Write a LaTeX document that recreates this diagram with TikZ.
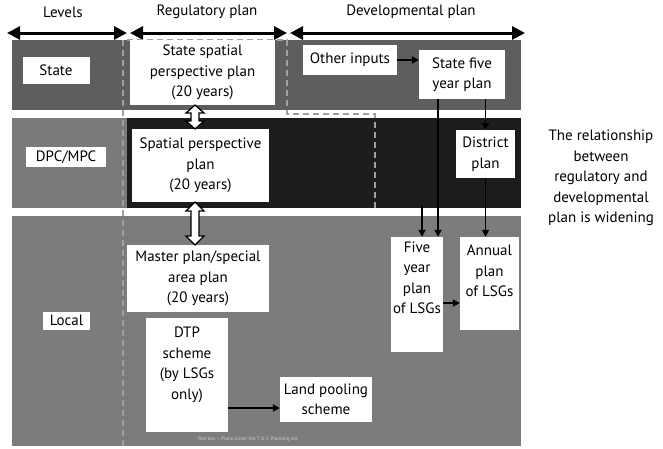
\documentclass[tikz,border=0pt]{standalone}
\usepackage{fontspec}
\setmainfont{PT Sans}
\usetikzlibrary{arrows.meta}
\definecolor{staterow}{HTML}{5E5E5E}
\definecolor{midrow}{HTML}{7A7A7A}
\definecolor{darkrow}{HTML}{1C1C1C}
\definecolor{localrow}{HTML}{7C7C7C}
\definecolor{redboxline}{HTML}{A0A0A0}
\tikzset{
  txt/.style={font=\fontsize{15}{20.5}\selectfont, align=center, inner sep=0pt},
  wbox/.style={fill=white, draw=none, inner sep=0pt, align=center, font=\fontsize{15}{20.5}\selectfont},
  levelarrow/.style={line width=3pt, {Triangle[length=13pt,width=13pt]}-{Triangle[length=13pt,width=13pt]}},
  conn/.style={line width=1.8pt, -{Triangle[length=7pt,width=7pt]}},
  redbox/.style={draw=redboxline, line width=1.3pt, dash pattern=on 6pt off 4pt},
  hollow/.style={draw=black, fill=white, line width=1.3pt, line join=miter}
}
\begin{document}
\begin{tikzpicture}[x=1pt,y=-1pt]
\useasboundingbox (0,0) rectangle (663,448);
% header labels
\node[txt] (hlev) at (63,12) {Levels};
\node[txt] (hreg) at (207,12) {Regulatory plan};
\node[txt] (hdev) at (411,12) {Developmental plan};
\coordinate (a1) at (7,33); \coordinate (a2) at (127,33);
\coordinate (a3) at (130,33); \coordinate (a4) at (287,33);
\coordinate (a5) at (290,33); \coordinate (a6) at (525,33);
\draw[levelarrow] (a1) -- (a2);
\draw[levelarrow] (a3) -- (a4);
\draw[levelarrow] (a5) -- (a6);
% background rows
\fill[staterow] (12,40) rectangle (521,110);
\fill[white] (12,110) rectangle (521,118);
\fill[midrow] (12,118) rectangle (127,208);
\fill[darkrow] (127,118) rectangle (521,208);
\fill[white] (12,208) rectangle (521,216);
\fill[localrow] (12,216) rectangle (521,446);
% red box (dashed)
\draw[redbox] (123,446) -- (123,40) -- (287,40) -- (287,114) -- (375,114) -- (375,210);
% level labels
\node[wbox, minimum width=67pt, minimum height=27pt] (state) at (56,70.5) {State};
\node[wbox, minimum width=80pt, minimum height=20pt] (dpc) at (66,157) {DPC/MPC};
\node[wbox, minimum width=47pt, minimum height=18pt] (local) at (66.5,320.5) {Local};
% regulatory plans
\node[wbox, minimum width=145pt, minimum height=65pt] (sspp) at (202.5,72.5) {State spatial\\perspective plan\\(20 years)};
\node[wbox, minimum width=137pt, minimum height=73pt] (spp) at (200.5,165.5) {Spatial perspective\\plan\\(20 years)};
\node[wbox, minimum width=142pt, minimum height=67pt] (master) at (198,278.5) {Master plan/special\\area plan\\(20 years)};
\node[wbox, minimum width=82pt, minimum height=114pt] (dtpbox) at (187,375) {};
\node[txt] (dtp) at (187,365) {DTP\\scheme\\(by LSGs\\only)};
\node[wbox, minimum width=92pt, minimum height=45pt] (land) at (326,399.5) {Land pooling\\scheme};
% developmental plans
\node[wbox, minimum width=94pt, minimum height=30pt] (other) at (350,60) {Other inputs};
\node[wbox, minimum width=86pt, minimum height=49pt] (sfyp) at (462,74.5) {State five\\year plan};
\node[wbox, minimum width=59pt, minimum height=48pt] (district) at (485.5,154) {District\\plan};
\node[wbox, minimum width=52pt, minimum height=115pt] (fivebox) at (417,294.5) {};
\node[txt] (five) at (417,278) {Five\\year\\plan\\of LSGs};
\node[wbox, minimum width=59pt, minimum height=93pt] (annualbox) at (489.5,283.5) {};
\node[txt] (annual) at (489.5,271) {Annual\\plan\\of LSGs};
% hollow double arrows
\draw[hollow] (191,113) -- (186,113) -- (195,105) -- (204,113) -- (199,113) -- (199,121) -- (204,121) -- (195,129) -- (186,121) -- (191,121) -- cycle;
\draw[hollow] (191,211) -- (186,211) -- (195,202) -- (204,211) -- (199,211) -- (199,236) -- (204,236) -- (195,245) -- (186,236) -- (191,236) -- cycle;
% connectors
\draw[conn] (other.east) -- (sfyp.west |- other.east);
\draw[conn] (sfyp.south -| district.north) -- (district.north);
\coordinate (s5) at (438,99);
\draw[conn] (s5) -- (s5 |- fivebox.north);
\draw[conn] (district.south) -- (district.south |- annualbox.north);
\coordinate (lsgin) at (422,206);
\draw[conn] (lsgin) -- (lsgin |- fivebox.north);
\coordinate (fa) at (443,303);
\draw[conn] (fa) -- (fa -| annualbox.west);
\coordinate (dl) at (228,408);
\draw[conn] (dl) -- (dl -| land.west);
% footer note
\node[font=\fontsize{5}{6}\selectfont, text=gray!35, inner sep=0pt] (note) at (248,439) {Red box -- Plans Under the T \& C Planning Act};
% side note
\node[txt] (side) at (601,178) {The relationship\\between\\regulatory and\\developmental\\plan is widening};
\end{tikzpicture}
\end{document}
